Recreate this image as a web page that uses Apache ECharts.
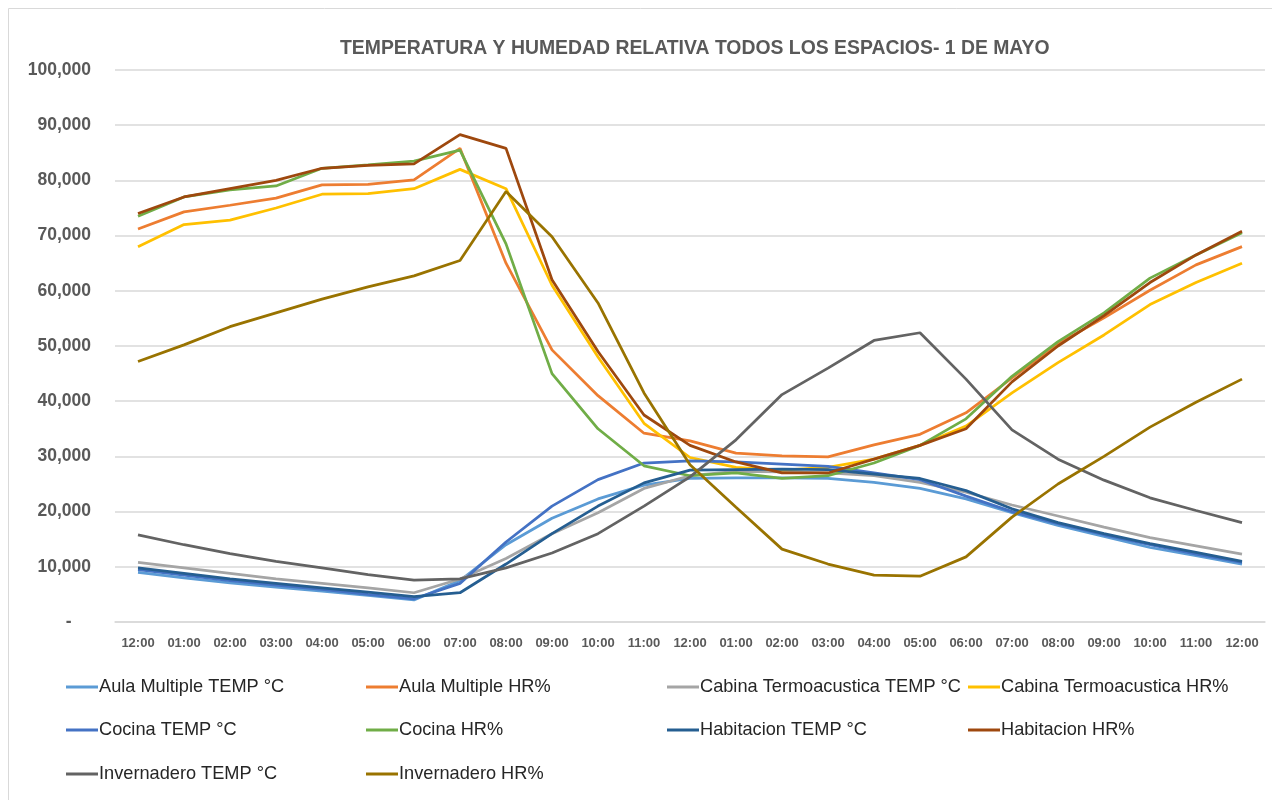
<!DOCTYPE html>
<html>
<head>
<meta charset="utf-8">
<script src="https://cdn.jsdelivr.net/npm/echarts@6/dist/echarts.min.js"></script>
<style>
html,body{margin:0;padding:0;background:#fff;}
#chart{width:1272px;height:800px;}
</style>
</head>
<body>
<div id="chart"></div>
<script>
const categories = ['12:00','01:00','02:00','03:00','04:00','05:00','06:00','07:00','08:00','09:00','10:00','11:00','12:00','01:00','02:00','03:00','04:00','05:00','06:00','07:00','08:00','09:00','10:00','11:00','12:00'];
const yTicks = [0,10000,20000,30000,40000,50000,60000,70000,80000,90000,100000];

const aulaTemp = [9000,8000,7100,6300,5600,4800,4000,7500,14000,18800,22300,24800,26000,26100,26100,26000,25300,24200,22300,19800,17500,15500,13500,12000,10500];
const aulaHR = [71200,74300,75500,76800,79200,79300,80100,85800,65000,49300,41000,34200,32800,30600,30100,29900,32100,34000,37900,44200,50400,55100,60100,64700,68000];
const cabinaTemp = [10800,9800,8800,7800,7000,6200,5300,7800,11500,16000,19800,24200,26500,27300,27200,27000,26500,25300,23500,21200,19200,17200,15300,13800,12300];
const cabinaHR = [68000,72000,72800,75000,77500,77600,78500,82000,78500,61000,48000,36000,29800,28000,27500,28000,29500,32000,35500,41500,47000,52000,57500,61500,65000];
const cocinaTemp = [9500,8500,7500,6700,5900,5000,4200,7000,14500,21000,25800,28800,29200,29000,28600,28200,27000,25800,22800,20000,17800,15800,14000,12300,10800];
const cocinaHR = [73500,77000,78300,79000,82200,82800,83500,85500,68500,45000,35000,28300,26500,27000,26000,26500,28800,32000,36800,44500,50800,56000,62300,66500,70500];
const habitacionTemp = [9800,8800,7800,7000,6200,5400,4600,5300,10500,16000,21000,25200,27500,27600,27700,27600,26800,26000,23800,20500,18000,16000,14200,12600,11000];
const habitacionHR = [74000,77000,78500,80000,82200,82700,83000,88300,85800,62000,49000,37500,32000,29000,27000,27000,29500,32000,35000,43500,50000,55500,61500,66500,70800];
const invernaderoTemp = [15800,14000,12400,11000,9800,8600,7600,7800,9800,12500,16000,21000,26300,33000,41200,46000,51000,52400,44000,34800,29500,25700,22500,20200,18000];
const invernaderoHR = [47200,50200,53500,56000,58500,60700,62700,65500,78000,69800,57800,41500,28500,20800,13200,10500,8500,8300,11800,19000,25000,30000,35300,39800,44000];

const seriesNames = ['Aula Multiple TEMP °C','Aula Multiple HR%','Cabina Termoacustica TEMP °C','Cabina Termoacustica HR%','Cocina TEMP °C','Cocina HR%','Habitacion TEMP °C','Habitacion HR%','Invernadero TEMP °C','Invernadero HR%'];
const seriesData = [aulaTemp,aulaHR,cabinaTemp,cabinaHR,cocinaTemp,cocinaHR,habitacionTemp,habitacionHR,invernaderoTemp,invernaderoHR];
const colors = ['#5B9BD5','#ED7D31','#A5A5A5','#FFC000','#4472C4','#70AD47','#255E91','#9E480E','#636363','#997300'];

const legendCols = [61,361,662,963];
const legendRows = [673,716,760];

const legends = seriesNames.map((n,i)=>({
  data:[n],
  left: legendCols[i%4],
  top: legendRows[Math.floor(i/4)],
  icon:'rect',
  itemWidth:32,
  itemHeight:3,
  itemGap:0,
  textStyle:{fontFamily:'Liberation Sans',fontSize:18.2,color:'#262626',padding:[0,0,0,-4]},
  selectedMode:false
}));

const chart = echarts.init(document.getElementById('chart'), null, {renderer:'canvas'});
chart.setOption({
  animation:false,
  color:colors,
  title:{
    text:'TEMPERATURA Y HUMEDAD RELATIVA TODOS LOS ESPACIOS- 1 DE MAYO',
    left:335, top:34,
    textStyle:{fontFamily:'Liberation Sans',fontWeight:'bold',fontSize:19.4,color:'#595959'}
  },
  graphic:[{type:'rect',silent:true,shape:{x:8.5,y:8.5,width:1400,height:1000},style:{fill:'none',stroke:'#d9d9d9',lineWidth:1}}],
  legend:legends,
  grid:{left:115,right:7,top:70,bottom:178,containLabel:false},
  xAxis:{
    type:'category',
    data:categories,
    boundaryGap:true,
    axisLine:{show:true,lineStyle:{color:'#d9d9d9',width:1.5}},
    axisTick:{show:false},
    axisLabel:{interval:0,margin:15,fontFamily:'Liberation Sans',fontWeight:'bold',fontSize:13,color:'#595959'}
  },
  yAxis:{
    type:'value',
    min:0,max:100000,interval:10000,
    axisLine:{show:false},
    axisTick:{show:false},
    splitLine:{lineStyle:{color:'#d9d9d9',width:1.5}},
    axisLabel:{margin:24,fontFamily:'Liberation Sans',fontWeight:'bold',fontSize:17.5,color:'#595959',
      formatter:function(v){ if(yTicks.indexOf(v)<0) return ''; return v===0?'-    ':v.toLocaleString('en-US'); }}
  },
  series:seriesNames.map((n,i)=>({
    name:n,type:'line',data:seriesData[i],
    showSymbol:false,symbol:'none',
    lineStyle:{width:2.75,color:colors[i]},
    itemStyle:{color:colors[i]}
  }))
});
</script>
</body>
</html>
